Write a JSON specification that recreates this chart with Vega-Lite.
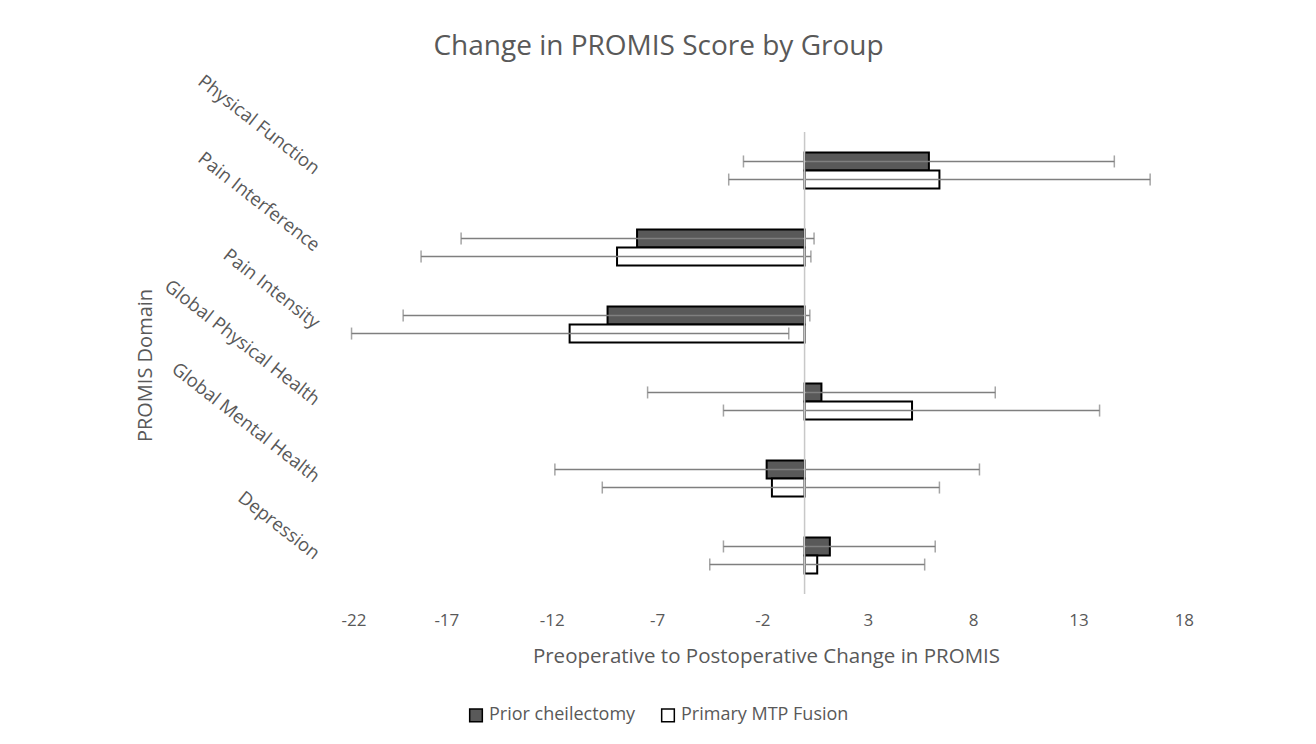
{
  "$schema": "https://vega.github.io/schema/vega-lite/v6.json",
  "autosize": {"type": "none"},
  "width": 885,
  "height": 462,
  "padding": {"left": 341, "top": 132, "right": 90, "bottom": 150},
  "background": "white",
  "config": {
    "view": {"stroke": null},
    "font": "Open Sans",
    "axis": {"labelColor": "#595959", "titleColor": "#595959", "titleFontWeight": "normal"},
    "legend": {"labelColor": "#595959"}
  },
  "title": {
    "text": "Change in PROMIS Score by Group",
    "fontSize": 28,
    "fontWeight": "normal",
    "color": "#595959",
    "font": "Open Sans",
    "anchor": "middle",
    "dx": -125,
    "offset": 10
  },
  "data": {
    "values": [
      {"domain": "Physical Function", "group": "Prior cheilectomy", "mean": 5.9, "lo": -2.9, "hi": 14.7},
      {"domain": "Physical Function", "group": "Primary MTP Fusion", "mean": 6.4, "lo": -3.6, "hi": 16.4},
      {"domain": "Pain Interference", "group": "Prior cheilectomy", "mean": -7.95, "lo": -16.3, "hi": 0.45},
      {"domain": "Pain Interference", "group": "Primary MTP Fusion", "mean": -8.9, "lo": -18.2, "hi": 0.3},
      {"domain": "Pain Intensity", "group": "Prior cheilectomy", "mean": -9.35, "lo": -19.05, "hi": 0.25},
      {"domain": "Pain Intensity", "group": "Primary MTP Fusion", "mean": -11.15, "lo": -21.5, "hi": -0.75},
      {"domain": "Global Physical Health", "group": "Prior cheilectomy", "mean": 0.8, "lo": -7.45, "hi": 9.05},
      {"domain": "Global Physical Health", "group": "Primary MTP Fusion", "mean": 5.1, "lo": -3.85, "hi": 14.0},
      {"domain": "Global Mental Health", "group": "Prior cheilectomy", "mean": -1.8, "lo": -11.85, "hi": 8.3},
      {"domain": "Global Mental Health", "group": "Primary MTP Fusion", "mean": -1.55, "lo": -9.6, "hi": 6.4},
      {"domain": "Depression", "group": "Prior cheilectomy", "mean": 1.2, "lo": -3.85, "hi": 6.2},
      {"domain": "Depression", "group": "Primary MTP Fusion", "mean": 0.6, "lo": -4.5, "hi": 5.7}
    ]
  },
  "encoding": {
    "y": {
      "field": "domain",
      "type": "nominal",
      "sort": ["Physical Function", "Pain Interference", "Pain Intensity", "Global Physical Health", "Global Mental Health", "Depression"],
      "scale": {"paddingInner": 0.53, "paddingOuter": 0.265},
      "axis": {
        "title": "PROMIS Domain",
        "titleFontSize": 20,
        "titleX": -196,
        "titleY": 233,
        "titleAngle": -90,
        "titleBaseline": "middle",
        "titleAlign": "center",
        "labelAngle": 38,
        "labelAlign": "right",
        "labelBaseline": "middle",
        "labelFontSize": 18.5,
        "labelPadding": 24,
        "labelLimit": 400,
        "ticks": false,
        "domain": false,
        "grid": false
      }
    },
    "yOffset": {
      "field": "group",
      "type": "nominal",
      "sort": ["Prior cheilectomy", "Primary MTP Fusion"],
      "scale": {"paddingInner": 0, "paddingOuter": 0}
    }
  },
  "layer": [
    {
      "mark": {"type": "bar", "stroke": "#000000", "strokeWidth": 2},
      "encoding": {
        "x": {
          "field": "mean",
          "type": "quantitative",
          "scale": {"domain": [-22, 20], "nice": false, "zero": false},
          "axis": {
            "title": "Preoperative to Postoperative Change in PROMIS",
            "titleFontSize": 20.5,
            "titlePadding": 18,
            "titleX": 425,
            "titleAnchor": "start",
            "titleAlign": "center",
            "values": [-22, -17, -12, -7, -2, 3, 8, 13, 18],
            "labelExpr": "'' + datum.value",
            "labelFontSize": 17,
            "labelPadding": 18,
            "ticks": false,
            "domain": false,
            "grid": false
          }
        },
        "fill": {
          "field": "group",
          "type": "nominal",
          "sort": ["Prior cheilectomy", "Primary MTP Fusion"],
          "scale": {"domain": ["Prior cheilectomy", "Primary MTP Fusion"], "range": ["#595959", "#ffffff"]},
          "legend": {
            "title": null,
            "orient": "none",
            "direction": "horizontal",
            "legendX": 126,
            "legendY": 574,
            "symbolType": "square",
            "symbolSize": 160,
            "symbolStrokeColor": "#000000",
            "symbolStrokeWidth": 1.5,
            "symbolOpacity": 1,
            "labelFontSize": 18,
            "labelLimit": 400,
            "columnPadding": 22
          }
        }
      }
    },
    {
      "mark": {"type": "rule", "color": "#7f7f7f", "strokeWidth": 1.5},
      "encoding": {
        "x": {"field": "lo", "type": "quantitative"},
        "x2": {"field": "hi"}
      }
    },
    {
      "mark": {"type": "tick", "color": "#7f7f7f", "thickness": 1.5, "size": 12, "orient": "vertical"},
      "encoding": {
        "x": {"field": "lo", "type": "quantitative"}
      }
    },
    {
      "mark": {"type": "tick", "color": "#7f7f7f", "thickness": 1.5, "size": 12, "orient": "vertical"},
      "encoding": {
        "x": {"field": "hi", "type": "quantitative"}
      }
    },
    {
      "data": {"values": [{"zero": 0}]},
      "mark": {"type": "rule", "color": "#c8c8c8", "strokeWidth": 1.5},
      "encoding": {
        "x": {"field": "zero", "type": "quantitative"},
        "y": null,
        "yOffset": null
      }
    }
  ]
}
